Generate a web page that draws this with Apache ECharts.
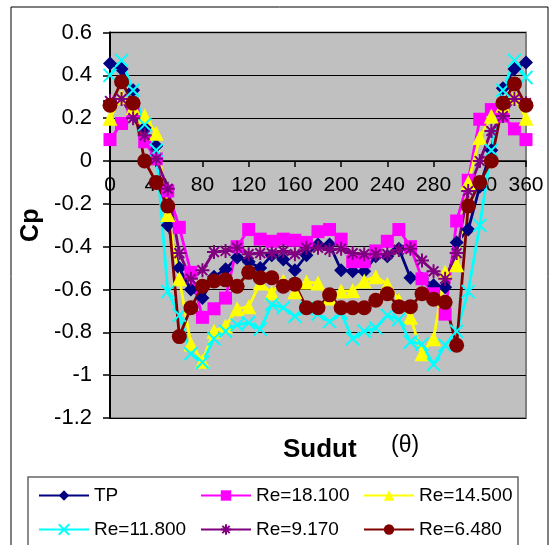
<!DOCTYPE html>
<html>
<head>
<meta charset="utf-8">
<script src="https://cdn.jsdelivr.net/npm/echarts@6/dist/echarts.min.js"></script>
<style>
  html, body { margin: 0; padding: 0; background: #fff; }
  #chart { width: 558px; height: 545px; }
</style>
</head>
<body>
<div id="chart"></div>
<script>
// sudut (derajat)
const angles = [0, 10, 20, 30, 40, 50, 60, 70, 80, 90, 100, 110, 120, 130, 140, 150, 160, 170, 180,
  190, 200, 210, 220, 230, 240, 250, 260, 270, 280, 290, 300, 310, 320, 330, 340, 350, 360];

const tp = [0.455, 0.43, 0.33, 0.155, 0.07, -0.3, -0.5, -0.6, -0.64, -0.54, -0.505, -0.45, -0.47, -0.5,
  -0.44, -0.46, -0.51, -0.44, -0.39, -0.39, -0.51, -0.515, -0.515, -0.445, -0.445, -0.41, -0.545,
  -0.55, -0.58, -0.59, -0.38, -0.32, -0.12, 0.05, 0.34, 0.43, 0.46];
const re18100 = [0.10, 0.175, 0.23, 0.09, 0.01, -0.14, -0.31, -0.52, -0.73, -0.69, -0.64, -0.4, -0.32,
  -0.365, -0.375, -0.365, -0.37, -0.38, -0.33, -0.32, -0.365, -0.47, -0.47, -0.42, -0.375, -0.32,
  -0.4, -0.55, -0.62, -0.715, -0.28, -0.09, 0.195, 0.24, 0.21, 0.15, 0.10];
const re14500 = [0.2, 0.3, 0.25, 0.21, 0.13, -0.25, -0.55, -0.855, -0.935, -0.795, -0.77, -0.69, -0.68,
  -0.57, -0.615, -0.56, -0.61, -0.565, -0.57, -0.64, -0.607, -0.605, -0.56, -0.54, -0.575, -0.65,
  -0.73, -0.9, -0.83, -0.52, -0.485, -0.1, 0.11, 0.21, 0.26, 0.3, 0.2];
const re11800 = [0.4, 0.47, 0.33, 0.17, 0.05, -0.61, -0.72, -0.9, -0.94, -0.83, -0.795, -0.765, -0.755,
  -0.785, -0.67, -0.685, -0.725, -0.69, -0.715, -0.75, -0.71, -0.83, -0.795, -0.78, -0.72, -0.74,
  -0.845, -0.855, -0.95, -0.86, -0.795, -0.61, -0.3, 0.05, 0.33, 0.47, 0.39];
const re9170 = [0.28, 0.29, 0.2, 0.12, 0.01, -0.13, -0.43, -0.55, -0.51, -0.425, -0.42, -0.405, -0.435,
  -0.43, -0.43, -0.42, -0.435, -0.405, -0.405, -0.415, -0.41, -0.43, -0.435, -0.435, -0.435, -0.415,
  -0.41, -0.465, -0.515, -0.55, -0.43, -0.14, 0.0, 0.14, 0.21, 0.29, 0.27];
const re6480 = [0.26, 0.37, 0.27, 0.0, -0.1, -0.21, -0.82, -0.685, -0.585, -0.56, -0.555, -0.585, -0.52,
  -0.545, -0.545, -0.585, -0.575, -0.685, -0.685, -0.625, -0.685, -0.685, -0.685, -0.65, -0.62, -0.68,
  -0.68, -0.62, -0.645, -0.66, -0.86, -0.21, -0.1, 0.0, 0.27, 0.36, 0.26];

const pts = vals => angles.map((a, i) => [a, vals[i]]);

const FONT = '"Liberation Sans", Arial, sans-serif';
const crossPath = 'path://M0,0L10,10M10,0L0,10';
const starPath = 'path://M0,5L10,5M5,0L5,10M1.5,1.5L8.5,8.5M8.5,1.5L1.5,8.5';

function mkSeries(name, vals, color, symbol, size, stroked) {
  return {
    name: name,
    type: 'line',
    data: pts(vals),
    symbol: symbol,
    symbolSize: size,
    showAllSymbol: true,
    lineStyle: { color: color, width: 2.8 },
    itemStyle: stroked
      ? { color: color, borderColor: color, borderWidth: 2 }
      : { color: color, borderWidth: 0 },
    emphasis: { disabled: true },
    animation: false
  };
}

const chart = echarts.init(document.getElementById('chart'));

const legendCommon = {
  orient: 'vertical',
  top: 486,
  padding: 0,
  itemWidth: 50,
  itemHeight: 13,
  itemGap: 15,
  textStyle: { fontSize: 19, color: '#000', fontFamily: FONT },
  selectedMode: false
};

// plot: top 32.5, bottom at y=418, zero line at y=161 -> x axis moved up by 257px
const option = {
  backgroundColor: '#fff',
  textStyle: { fontFamily: FONT },
  grid: {
    left: 110, right: 32, top: 32.5, bottom: 127,
    show: true,
    backgroundColor: '#C0C0C0',
    borderColor: '#808080',
    borderWidth: 2
  },
  xAxis: {
    type: 'value',
    min: 0, max: 360, interval: 40,
    offset: -257,
    axisLine: { onZero: false, lineStyle: { color: '#000', width: 1.5 } },
    axisTick: { show: true, length: 6, lineStyle: { color: '#000', width: 1.5 } },
    axisLabel: { fontSize: 21, color: '#000', margin: 14, fontFamily: FONT },
    splitLine: { show: false }
  },
  yAxis: {
    type: 'value',
    min: -1.2, max: 0.6, interval: 0.2,
    name: 'Cp',
    nameLocation: 'middle',
    nameRotate: 90,
    nameGap: 66,
    nameTextStyle: { fontSize: 25, fontWeight: 'bold', color: '#000', fontFamily: FONT },
    axisLine: { show: true, onZero: false, lineStyle: { color: '#000', width: 2 } },
    axisTick: { show: true, length: 7, lineStyle: { color: '#000', width: 1.5 } },
    axisLabel: {
      fontSize: 22, color: '#000', margin: 18, fontFamily: FONT,
      formatter: v => String(+v.toFixed(1))
    },
    splitLine: { show: true, lineStyle: { color: '#000', width: 1.2 } }
  },
  legend: [
    Object.assign({ left: 38, data: ['TP', 'Re=11.800'] }, legendCommon),
    Object.assign({ left: 200, data: ['Re=18.100', 'Re=9.170'] }, legendCommon),
    Object.assign({ left: 363, data: ['Re=14.500', 'Re=6.480'] }, legendCommon)
  ],
  graphic: [
    {
      type: 'text', left: 0, top: -15, silent: true,
      style: { text: 'bisa ditandai.', fontSize: 18, fill: '#000', fontFamily: FONT }
    },
    {
      type: 'rect', silent: true, z: -1,
      shape: { x: 11, y: 7, width: 537, height: 560 },
      style: { fill: 'none', stroke: '#000', lineWidth: 1 }
    },
    {
      type: 'rect', silent: true,
      shape: { x: 28, y: 477, width: 490, height: 90 },
      style: { fill: 'none', stroke: '#666', lineWidth: 1.5 }
    },
    {
      type: 'text', left: 283, top: 437, silent: true,
      style: { text: 'Sudut', fontSize: 26, fontWeight: 'bold', fill: '#000', fontFamily: FONT }
    },
    {
      type: 'text', left: 391, top: 434, silent: true,
      style: { text: '(θ)', fontSize: 23, fill: '#000', fontFamily: FONT }
    }
  ],
  series: [
    mkSeries('TP', tp, '#000080', 'diamond', 14, false),
    mkSeries('Re=18.100', re18100, '#FF00FF', 'rect', 13, false),
    mkSeries('Re=14.500', re14500, '#FFFF00', 'triangle', 15, false),
    mkSeries('Re=11.800', re11800, '#00FFFF', crossPath, 13, true),
    mkSeries('Re=9.170', re9170, '#800080', starPath, 14, true),
    mkSeries('Re=6.480', re6480, '#800000', 'circle', 15, false)
  ]
};

chart.setOption(option);
</script>
</body>
</html>
